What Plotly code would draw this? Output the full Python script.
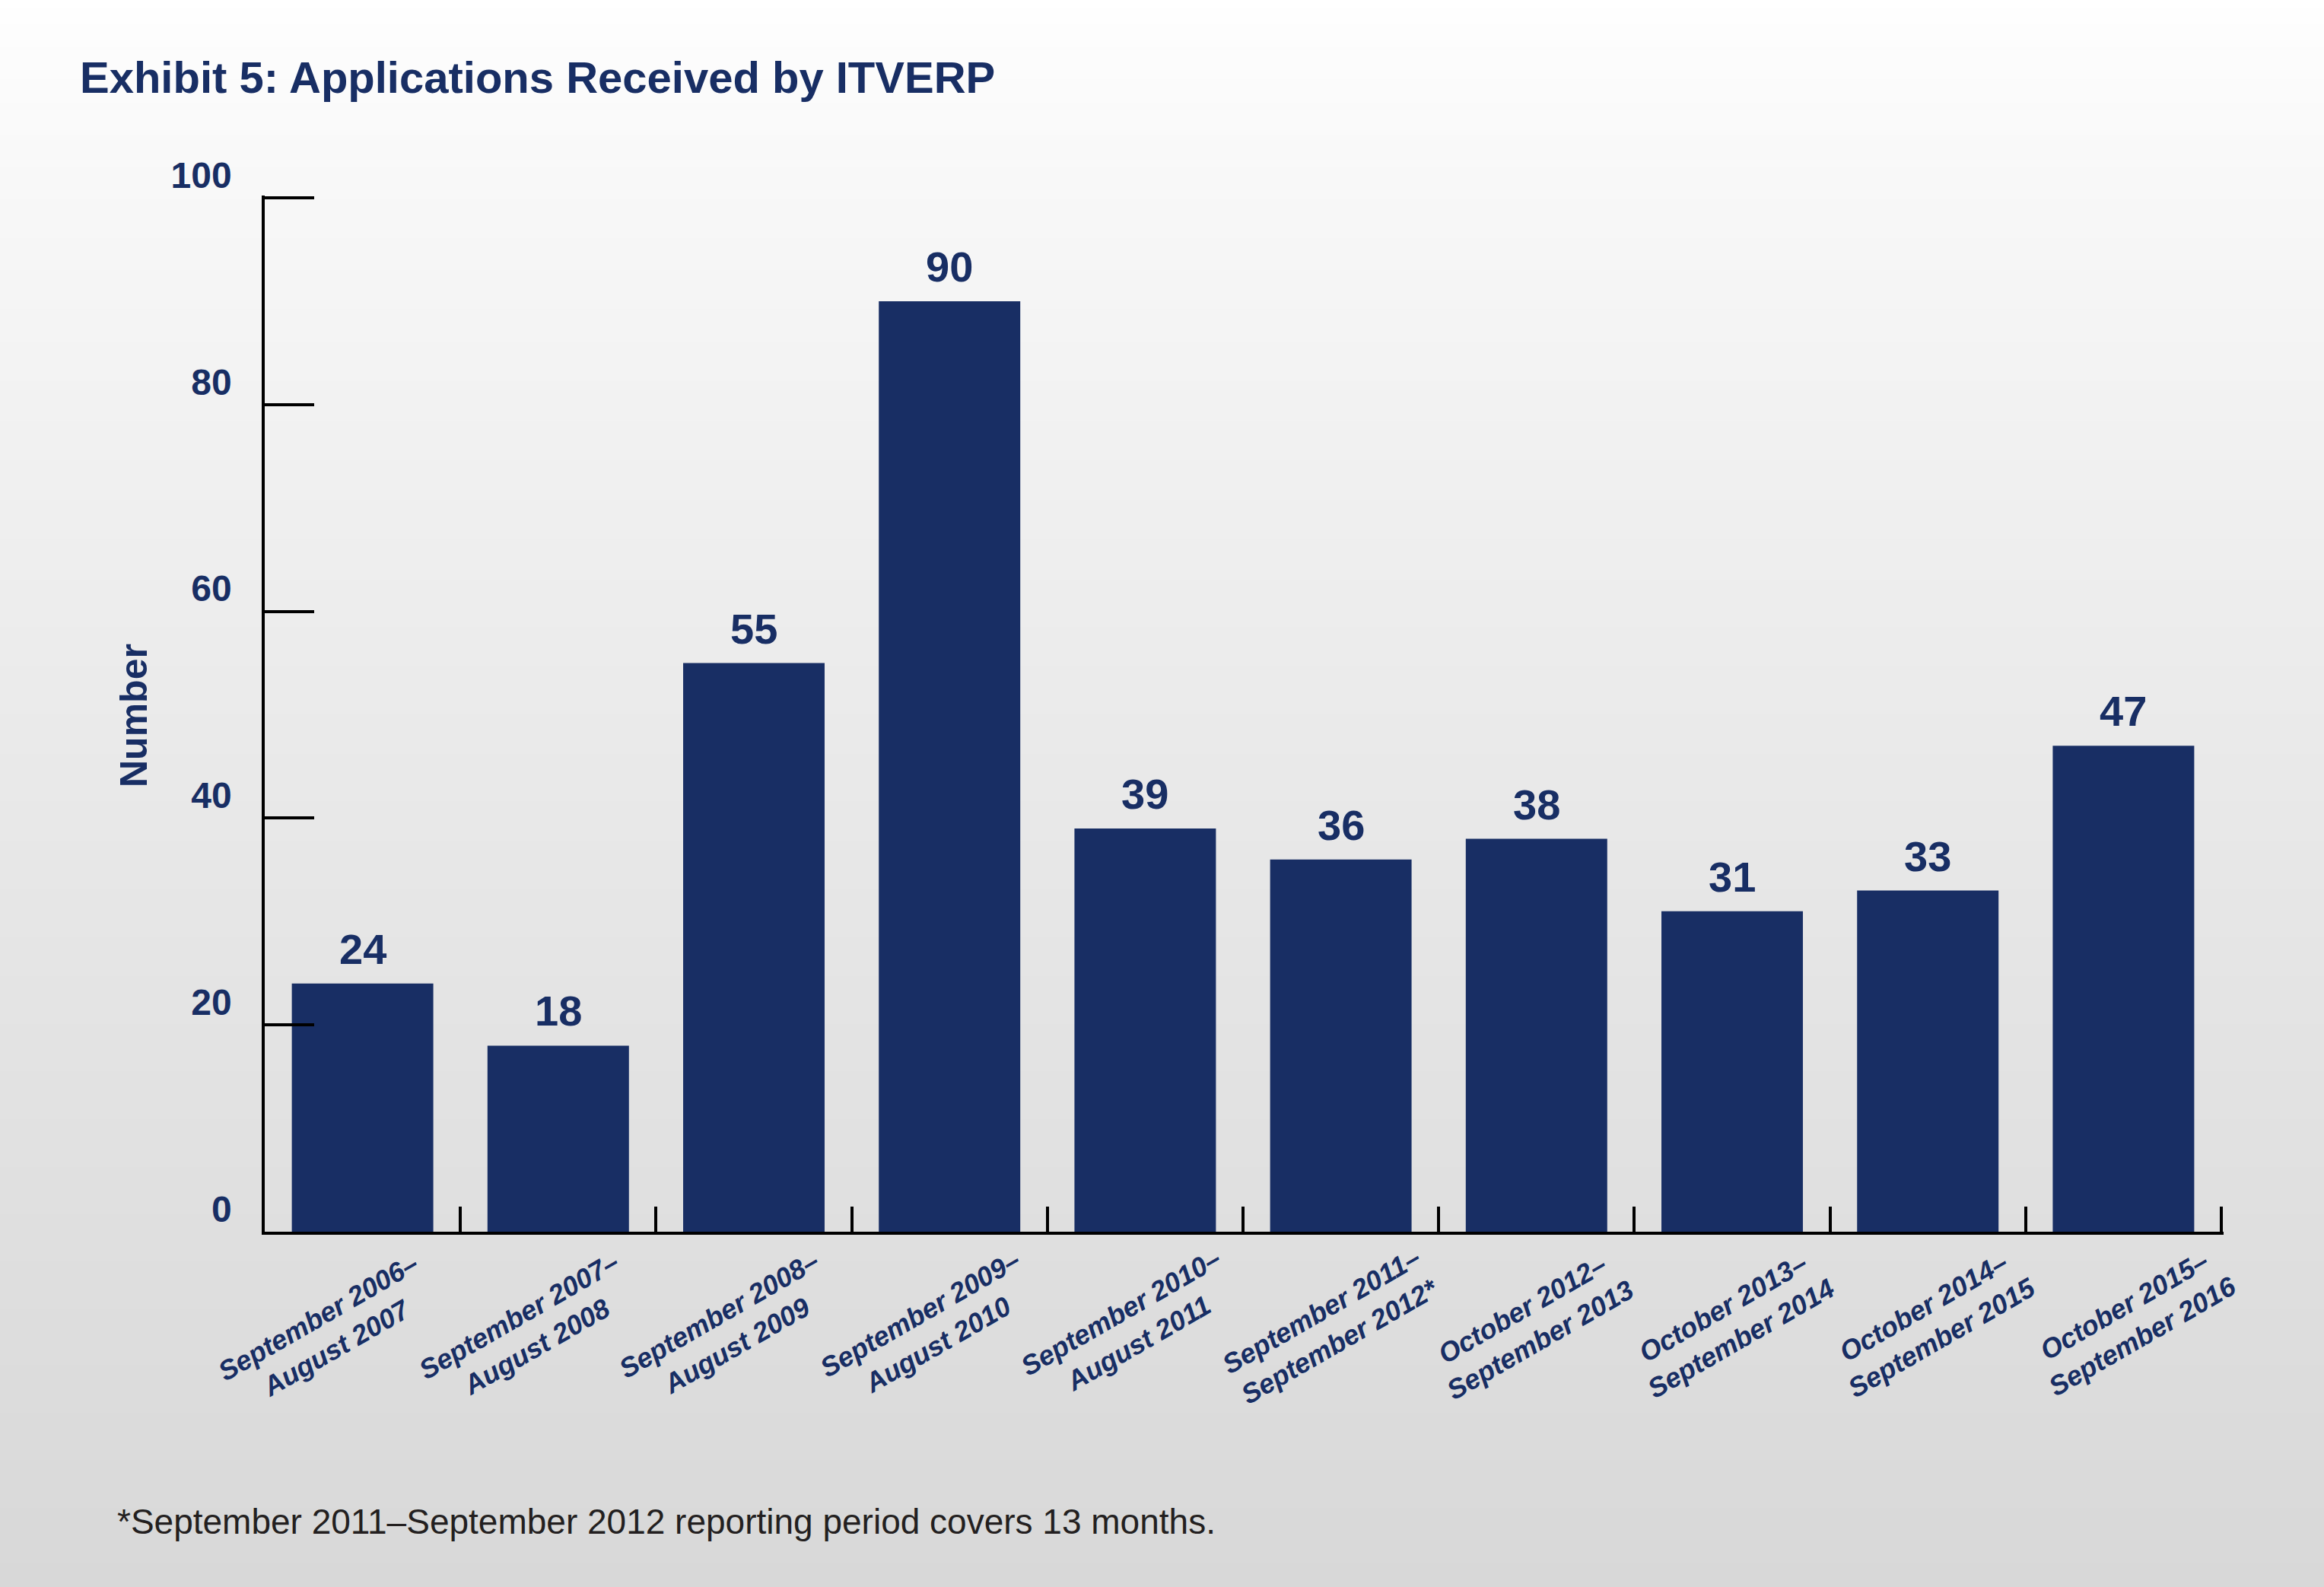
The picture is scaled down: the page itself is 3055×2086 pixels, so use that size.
import plotly.graph_objects as go

# Reporting periods (x categories) and number of applications per period
periods = [
    "September 2006–<br>August 2007",
    "September 2007–<br>August 2008",
    "September 2008–<br>August 2009",
    "September 2009–<br>August 2010",
    "September 2010–<br>August 2011",
    "September 2011–<br>September 2012*",
    "October 2012–<br>September 2013",
    "October 2013–<br>September 2014",
    "October 2014–<br>September 2015",
    "October 2015–<br>September 2016",
]
applications = [24, 18, 55, 90, 39, 36, 38, 31, 33, 47]
y_ticks = [0, 20, 40, 60, 80, 100]

title_text = "Exhibit 5: Applications Received by ITVERP"
y_title = "Number"
footnote = "*September 2011–September 2012 reporting period covers 13 months."

NAVY = "#182e64"
FONT = "Liberation Sans, Arial, sans-serif"
W, H = 3055, 2086
EXTRA = 3  # few px of slack so plotly keeps the inside ticks at the axis ends
M_L, M_R, M_T, M_B = 348, 135 - EXTRA, 260 - EXTRA, 467
PH = H - M_T - M_B
PW = W - M_L - M_R
y_top = 100 * (PH / (PH - EXTRA))
x_end = len(periods) - 0.5 + EXTRA * len(periods) / (PW - EXTRA)

fig = go.Figure()

# vertical grey gradient background, drawn as thin stripes
n_stripes = 200
for k in range(n_stripes):
    t = (k + 0.5) / n_stripes
    g = int(round(255 - 39 * t ** 0.8))
    top_px = k * H / n_stripes
    bot_px = (k + 1) * H / n_stripes + 1
    fig.add_shape(
        type="rect", xref="paper", yref="paper", layer="below",
        x0=-M_L / PW - 0.01, x1=1 + M_R / PW + 0.01,
        y0=(H - M_B - bot_px) / PH, y1=(H - M_B - top_px) / PH,
        line=dict(width=0), fillcolor=f"rgb({g},{g},{g})",
    )

fig.add_trace(go.Bar(
    x=periods,
    y=applications,
    marker=dict(color=NAVY, line=dict(width=0)),
    hoverinfo="skip",
))

# value labels above the bars
for p, v in zip(periods, applications):
    fig.add_annotation(
        x=p, y=v, xref="x", yref="y", text=str(v), showarrow=False,
        xanchor="center", yanchor="bottom", yshift=12,
        font=dict(family=FONT, size=56, color=NAVY, weight="bold"),
    )

# rotated two-line category labels
for i, p in enumerate(periods):
    fig.add_annotation(
        x=p, y=0, xref="x", yref="y", text=p, showarrow=False,
        textangle=-30, align="center", xanchor="center", yanchor="middle",
        xshift=-47 + 6.7 * i, yshift=-133 + 1.8 * i,
        font=dict(family=FONT, size=36, color=NAVY, weight="bold", style="italic"),
    )

fig.add_annotation(
    x=(176 - M_L) / PW, y=(H - M_B - 941) / PH, xref="paper", yref="paper",
    text=y_title, showarrow=False, textangle=-90,
    xanchor="center", yanchor="middle",
    font=dict(family=FONT, size=50, color=NAVY, weight="bold"),
)

fig.add_annotation(
    x=(152 - M_L) / PW, y=(H - M_B - 2000) / PH, xref="paper", yref="paper",
    text=footnote, showarrow=False, xanchor="left", yanchor="middle",
    font=dict(family=FONT, size=46, color="#231f20"),
)

fig.update_layout(
    width=W, height=H,
    margin=dict(l=M_L, r=M_R, t=M_T, b=M_B),
    paper_bgcolor="white",
    plot_bgcolor="rgba(0,0,0,0)",
    showlegend=False,
    bargap=0.277,
    title=dict(
        text=title_text, xref="container", yref="container",
        x=105 / W, xanchor="left", y=1 - 102 / H, yanchor="middle",
        font=dict(family=FONT, size=58, color=NAVY, weight="bold"),
    ),
    xaxis=dict(
        type="category", range=[-0.5, x_end],
        showticklabels=False, showgrid=False, zeroline=False,
        ticks="inside", tickson="boundaries", ticklen=33, tickwidth=3.5,
        tickcolor="black", showline=True, linecolor="black", linewidth=3.5,
    ),
    yaxis=dict(
        range=[0, y_top], tickvals=y_ticks, showgrid=False, zeroline=False,
        ticks="inside", ticklen=65, tickwidth=3.5, tickcolor="black",
        showline=True, linecolor="black", linewidth=3.5,
        tickfont=dict(family=FONT, size=48, color=NAVY, weight="bold"),
        ticklabelshift=-30, ticklabelstandoff=30,
    ),
)

fig.write_html(
    "out.html",
    config={"displayModeBar": False},
    post_script="document.body.style.margin = '0';",
)
